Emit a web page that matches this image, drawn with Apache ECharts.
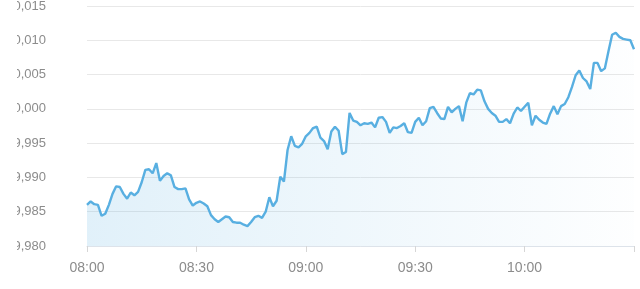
<!DOCTYPE html>
<html>
<head>
<meta charset="utf-8">
<script src="https://cdn.jsdelivr.net/npm/echarts@6/dist/echarts.min.js"></script>
<style>
html,body{margin:0;padding:0;background:#fff;}
#chart{width:640px;height:289px;}
</style>
</head>
<body>
<div id="chart"></div>
<script>
// minute-by-minute times from 08:00 to 10:30
const times = [];
for (let m = 8 * 60; m <= 10 * 60 + 30; m++) {
  const h = Math.floor(m / 60), mm = m % 60;
  times.push((h < 10 ? '0' : '') + h + ':' + (mm < 10 ? '0' : '') + mm);
}
const xTickLabels = ['08:00', '08:30', '09:00', '09:30', '10:00'];
const xTickMarks = ['08:00', '08:30', '09:00', '09:30', '10:00', '10:30'];

const values = [
  109.9860, 109.9865, 109.9861, 109.9860, 109.9844, 109.9847, 109.9860, 109.9876, 109.9887, 109.9886,
  109.9876, 109.9869, 109.9878, 109.9874, 109.9879, 109.9893, 109.9911, 109.9912, 109.9906, 109.9921,
  109.9895, 109.9902, 109.9906, 109.9903, 109.9886, 109.9883, 109.9883, 109.9884, 109.9868, 109.9859,
  109.9863, 109.9865, 109.9862, 109.9858, 109.9845, 109.9839, 109.9835, 109.9839, 109.9843, 109.9842,
  109.9835, 109.9834, 109.9834, 109.9831, 109.9829, 109.9835, 109.9842, 109.9844, 109.9841, 109.9850,
  109.9871, 109.9858, 109.9866, 109.9901, 109.9894, 109.9940, 109.9960, 109.9946, 109.9944, 109.9949,
  109.9960, 109.9965, 109.9972, 109.9974, 109.9958, 109.9953, 109.9941, 109.9967, 109.9974, 109.9968,
  109.9934, 109.9937, 109.9994, 109.9983, 109.9981, 109.9976, 109.9979, 109.9978, 109.9980, 109.9973,
  109.9987, 109.9988, 109.9981, 109.9965, 109.9973, 109.9972, 109.9975, 109.9979, 109.9966, 109.9965,
  109.9981, 109.9987, 109.9976, 109.9982, 110.0001, 110.0003, 109.9994, 109.9986, 109.9985, 110.0003,
  109.9995, 110.0000, 110.0004, 109.9982, 110.0009, 110.0023, 110.0021, 110.0028, 110.0027, 110.0011,
  110.0000, 109.9994, 109.9990, 109.9981, 109.9981, 109.9985, 109.9979, 109.9993, 110.0002, 109.9997,
  110.0003, 110.0009, 109.9976, 109.9990, 109.9984, 109.9980, 109.9978, 109.9993, 110.0004, 109.9992,
  110.0004, 110.0007, 110.0017, 110.0032, 110.0049, 110.0056, 110.0045, 110.0040, 110.0029, 110.0067,
  110.0067, 110.0055, 110.0059, 110.0084, 110.0108, 110.0111, 110.0105, 110.0102, 110.0101, 110.0100,
  110.0087
];

const yMin = 109.980, yMax = 110.015, yStep = 0.005;

const chart = echarts.init(document.getElementById('chart'), null, {renderer: 'canvas'});
chart.setOption({
  animation: false,
  backgroundColor: '#ffffff',
  grid: {left: 87, right: 6, top: 6, bottom: 43, containLabel: false, outerBoundsMode: 'none'},
  xAxis: {
    type: 'category',
    data: times,
    boundaryGap: false,
    axisLine: {show: true, lineStyle: {color: '#dde3ea', width: 1}},
    axisTick: {
      show: true, length: 6,
      interval: (i, v) => xTickMarks.indexOf(v) >= 0,
      lineStyle: {color: '#d6d6d6'}
    },
    axisLabel: {
      interval: (i, v) => xTickLabels.indexOf(v) >= 0,
      color: '#8c8c8c', fontSize: 14, margin: 15,
      fontFamily: 'Liberation Sans, Arial, sans-serif'
    },
    splitLine: {show: false}
  },
  yAxis: {
    type: 'value',
    min: yMin, max: yMax, interval: yStep,
    axisLine: {show: false},
    axisTick: {show: false},
    axisLabel: {
      color: '#8c8c8c', fontSize: 13, margin: 41, align: 'right',
      fontFamily: 'Liberation Sans, Arial, sans-serif',
      formatter: v => v.toFixed(3).replace('.', ',')
    },
    splitLine: {lineStyle: {color: '#e8e8e8', width: 1}}
  },
  series: [{
    type: 'line',
    data: values,
    showSymbol: false,
    smooth: false,
    lineStyle: {color: '#58afe1', width: 2.4},
    itemStyle: {color: '#58afe1'},
    areaStyle: {
      color: new echarts.graphic.LinearGradient(0, 0, 1, 0, [
        {offset: 0, color: 'rgba(88,175,225,0.26)'},
        {offset: 1, color: 'rgba(88,175,225,0.01)'}
      ])
    }
  }],
  graphic: [{
    type: 'rect', left: 0, top: 0, z: 100,
    shape: {width: 17, height: 255},
    style: {fill: '#ffffff'}
  }]
});
</script>
</body>
</html>
